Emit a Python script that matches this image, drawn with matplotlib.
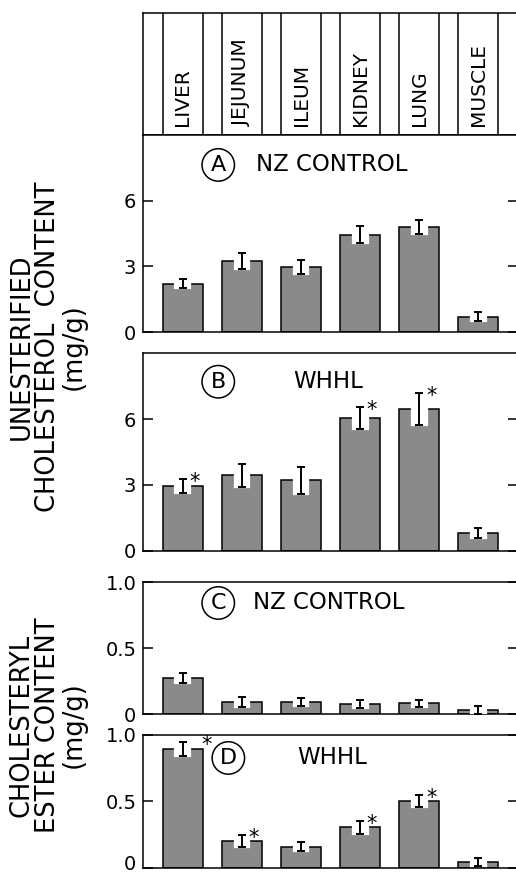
import numpy as np
import matplotlib
matplotlib.use("Agg")
import matplotlib.pyplot as plt
from matplotlib.transforms import ScaledTranslation

plt.rcParams['font.family'] = ['DejaVu Sans']

# tissue order across the top header
tissues = ["LIVER", "JEJUNUM", "ILEUM", "KIDNEY", "LUNG", "MUSCLE"]

# unesterified cholesterol (mg/g)
unest_nz = [2.21, 3.24, 2.97, 4.44, 4.79, 0.70]
unest_nz_err = [0.22, 0.38, 0.33, 0.38, 0.33, 0.20]
unest_whhl = [2.95, 3.44, 3.21, 6.05, 6.46, 0.81]
unest_whhl_err = [0.30, 0.53, 0.62, 0.48, 0.74, 0.24]

# cholesteryl ester (mg/g)
ester_nz = [0.275, 0.09, 0.09, 0.075, 0.08, 0.03]
ester_nz_err = [0.04, 0.04, 0.03, 0.03, 0.03, 0.03]
ester_whhl = [0.895, 0.20, 0.157, 0.304, 0.503, 0.04]
ester_whhl_err = [0.05, 0.045, 0.033, 0.05, 0.045, 0.03]

# bars marked with an asterisk (index into tissues)
unest_whhl_sig = [0, 3, 4]
ester_whhl_sig = [0, 1, 3, 4]

W, H = 516, 877
BAR_W = 0.68
NOTCH_W = 0.25
XLIM = (-0.668, 5.67)
BAR_COLOR = "#8a8a8a"
LW = 1.1


def fig_axes(fig, top_px, bottom_px, left_px=143.3, right_px=518):
    return fig.add_axes([left_px / W, 1 - bottom_px / H,
                         (right_px - left_px) / W, (bottom_px - top_px) / H])


def draw_panel(ax, vals, errs, letter, title, circle_xy, title_x,
               ylim, yticks, yticklabels, sig=(), star_dx=None):
    x = np.arange(len(vals))
    vals = np.asarray(vals)
    errs = np.asarray(errs)
    ax.bar(x, vals, width=BAR_W, color=BAR_COLOR, edgecolor="black",
           linewidth=LW, zorder=2)
    # white notch cut into the bar top around the lower half of the error bar
    low = np.clip(vals - errs, 0, None)
    ax.bar(x, vals - low, bottom=low, width=NOTCH_W, color="white",
           edgecolor="white", linewidth=1.6, zorder=3)
    ax.errorbar(x, vals, yerr=errs, fmt="none", ecolor="black",
                elinewidth=1.4, capsize=3, capthick=1.4, zorder=4)
    star_dx = star_dx or {}
    for i in sig:
        ax.text(i + star_dx.get(i, 0.2), vals[i] + errs[i], "*",
                fontsize=15, ha="center", va="center", zorder=5,
                transform=ax.transData + ScaledTranslation(0, -3 / 100,
                                                           fig.dpi_scale_trans))
    ax.text(circle_xy[0], circle_xy[1], letter, transform=ax.transAxes,
            fontsize=16, ha="center", va="center",
            bbox=dict(boxstyle="circle,pad=0.28", fc="white", ec="black",
                      lw=1.1))
    ax.text(title_x, circle_xy[1], title, transform=ax.transAxes,
            fontsize=16.5, ha="left", va="center")
    ax.set_xlim(*XLIM)
    ax.set_ylim(*ylim)
    ax.set_xticks([])
    ax.set_yticks(yticks)
    ax.set_yticklabels(yticklabels)
    ax.tick_params(axis="y", direction="in", length=7, width=LW,
                   labelsize=14, right=True, pad=5)
    for s in ax.spines.values():
        s.set_linewidth(LW)


fig = plt.figure(figsize=(W / 100, H / 100), dpi=100)

# header with tissue names
hx = fig_axes(fig, 13.3, 135)
hx.set_xlim(*XLIM)
hx.set_ylim(0, 1)
hx.set_xticks([])
hx.set_yticks([])
for s in hx.spines.values():
    s.set_linewidth(LW)
for i, name in enumerate(tissues):
    hx.axvline(i - BAR_W / 2, color="black", lw=LW)
    hx.axvline(i + BAR_W / 2, color="black", lw=LW)
    hx.text(i, 0.075, name, rotation=90, ha="center", va="bottom",
            fontsize=14.5)

ax_a = fig_axes(fig, 135, 332)
draw_panel(ax_a, unest_nz, unest_nz_err, "A", "NZ CONTROL",
           (0.20, 0.848), 0.30, (0, 9), [0, 3, 6], ["0", "3", "6"])

ax_b = fig_axes(fig, 353.3, 550.7)
draw_panel(ax_b, unest_whhl, unest_whhl_err, "B", "WHHL",
           (0.20, 0.856), 0.40, (0, 9), [0, 3, 6], ["0", "3", "6"],
           sig=unest_whhl_sig)

ax_c = fig_axes(fig, 582.3, 714)
draw_panel(ax_c, ester_nz, ester_nz_err, "C", "NZ CONTROL",
           (0.20, 0.843), 0.293, (0, 1.0), [0, 0.5, 1.0],
           ["0", "0.5", "1.0"])

ax_d = fig_axes(fig, 735, 867.7)
draw_panel(ax_d, ester_whhl, ester_whhl_err, "D", "WHHL",
           (0.227, 0.827), 0.41, (0, 1.0), [0, 0.5, 1.0],
           ["0", "0.5", "1.0"], sig=ester_whhl_sig, star_dx={0: 0.4})
# bottom "0" sits right at the image edge; nudge it up so it stays inside
zero_lbl = ax_d.get_yticklabels()[0]
zero_lbl.set_transform(zero_lbl.get_transform()
                       + ScaledTranslation(0, 5 / 100, fig.dpi_scale_trans))

fig.text(48 / W, 1 - 347 / H,
         "UNESTERIFIED\nCHOLESTEROL  CONTENT\n(mg/g)",
         rotation=90, ha="center", va="center", ma="center",
         fontsize=18.5, linespacing=1.0)
fig.text(48 / W, 1 - 725 / H,
         "CHOLESTERYL\nESTER CONTENT\n(mg/g)",
         rotation=90, ha="center", va="center", ma="center",
         fontsize=18.5, linespacing=1.0)

fig.savefig("out.png", dpi=100)
